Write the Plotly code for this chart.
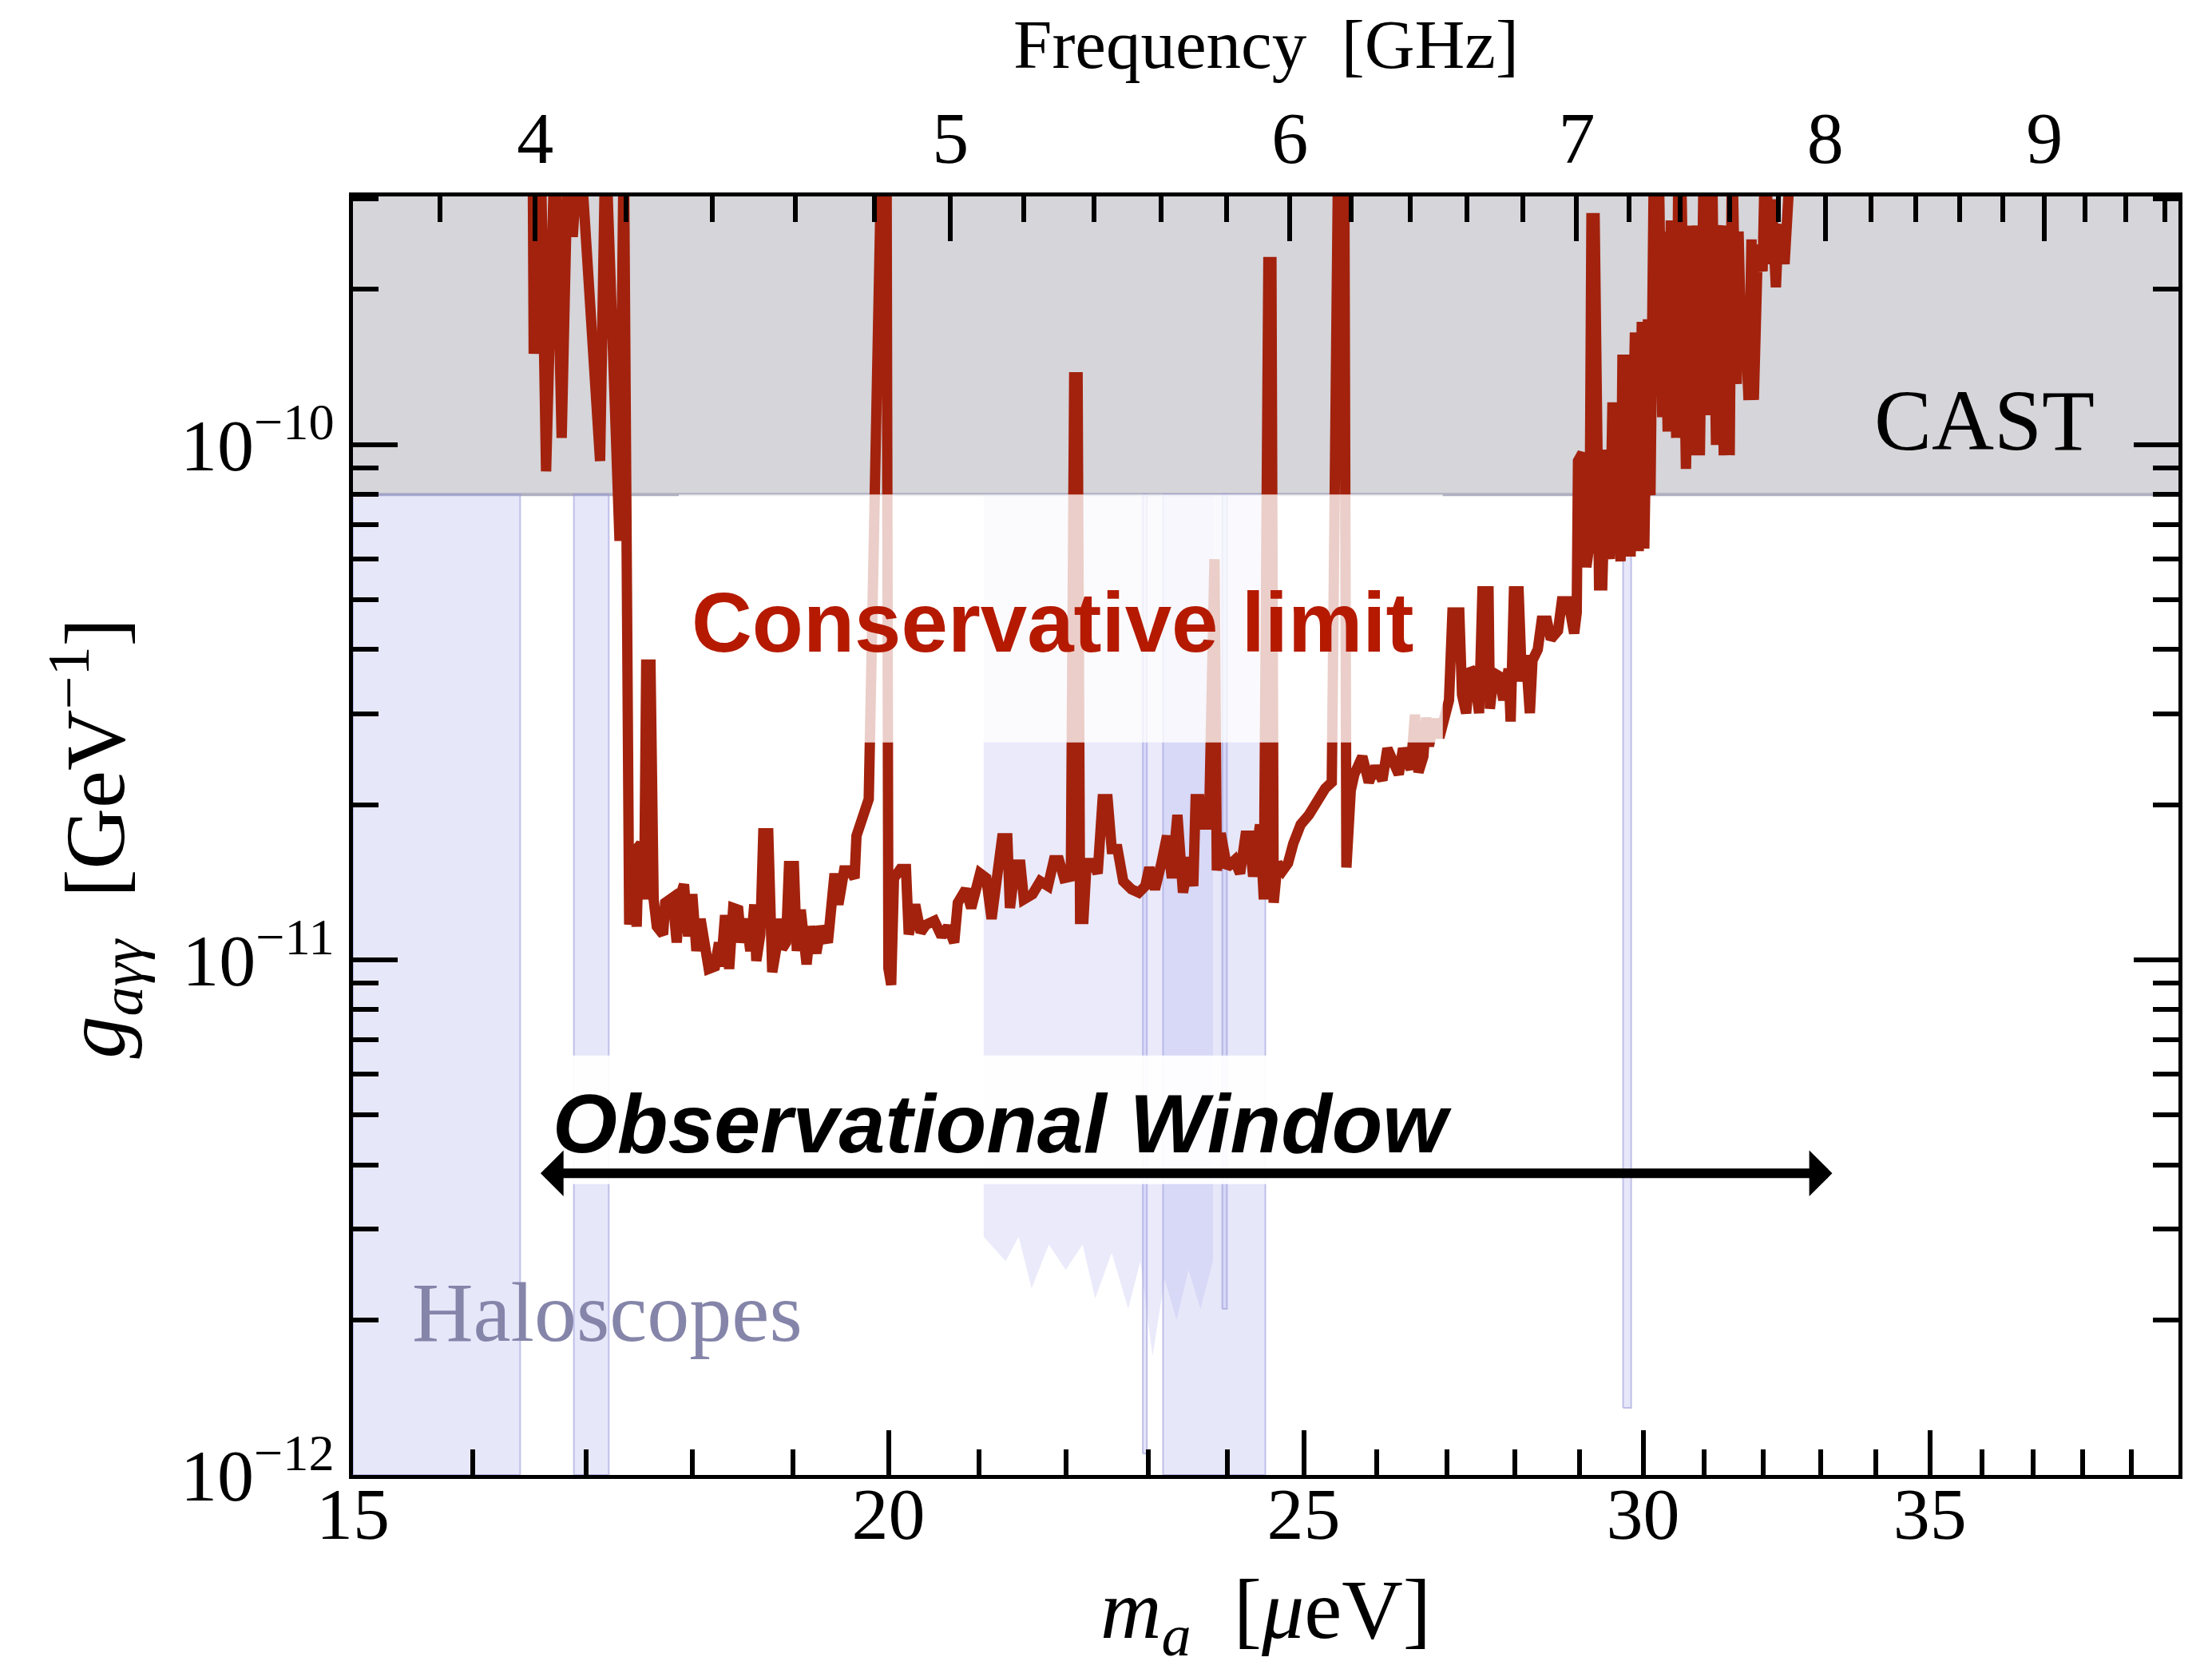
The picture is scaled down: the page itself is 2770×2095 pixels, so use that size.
import math
import plotly.graph_objects as go

# ---------------- data ----------------
# Conservative limit curve: axion mass [micro-eV] and coupling [1e-11 GeV^-1]
mass_ueV = [
    16.52, 16.53, 16.59, 16.64, 16.72, 16.78, 16.84, 16.88, 16.94, 17.13, 17.18, 17.24, 17.27, 17.31, 17.35, 17.38, 17.40,
    17.44, 17.47, 17.49, 17.51, 17.54, 17.56, 17.60, 17.63, 17.66, 17.72, 17.74, 17.81, 17.85, 17.88, 17.92, 17.96,
    18.00, 18.04, 18.08, 18.12, 18.16, 18.22, 18.26, 18.28, 18.32, 18.36, 18.40, 18.45, 18.48, 18.53, 18.57, 18.61,
    18.63, 18.67, 18.70, 18.75, 18.79, 18.83, 18.85, 18.89, 18.93, 18.96, 19.01, 19.04, 19.08, 19.14, 19.18, 19.24,
    19.29, 19.36, 19.43, 19.47, 19.53, 19.59, 19.64, 19.66, 19.74, 19.79, 19.93, 19.98, 20.00, 20.03, 20.06, 20.13,
    20.19, 20.22, 20.29, 20.35, 20.41,
    20.50, 20.58, 20.65, 20.72, 20.76, 20.85, 20.91, 21.01, 21.08, 21.14, 21.21, 21.26, 21.32, 21.35, 21.41, 21.47,
    21.51, 21.61, 21.70, 21.79, 21.86, 21.92, 21.98, 22.06, 22.10, 22.14, 22.17, 22.21, 22.24, 22.26, 22.33, 22.38,
    22.44, 22.50, 22.55, 22.62, 22.69, 22.79, 22.88, 22.96, 23.01, 23.08, 23.16, 23.23, 23.29, 23.36, 23.43, 23.51,
    23.56, 23.59, 23.64, 23.69, 23.76, 23.80, 23.83, 23.86, 23.91, 23.99, 24.09, 24.16, 24.23, 24.28, 24.33, 24.42,
    24.47, 24.53, 24.57, 24.60, 24.65, 24.72, 24.79, 24.86, 24.96, 25.07, 25.18, 25.29, 25.38, 25.47, 25.55, 25.58,
    25.64,
    25.69, 25.80, 25.89, 25.98, 26.08, 26.15, 26.23, 26.31, 26.37, 26.48, 26.54, 26.59, 26.66, 26.70, 26.74, 26.82,
    26.89, 26.97, 27.03, 27.08, 27.18, 27.22, 27.28, 27.34, 27.40, 27.47, 27.52, 27.61, 27.63, 27.69, 27.77, 27.83,
    27.91, 27.94, 27.99, 28.06, 28.11, 28.17, 28.23, 28.27, 28.35, 28.41, 28.49, 28.55, 28.66, 28.72, 28.82, 28.91,
    28.95,
    28.97, 29.04, 29.10, 29.15, 29.18, 29.23, 29.30, 29.35, 29.39, 29.42, 29.47, 29.51, 29.57, 29.64, 29.67, 29.76,
    29.80, 29.84, 29.87, 29.93, 29.98, 30.02, 30.08, 30.12, 30.18, 30.25, 30.31, 30.34, 30.40, 30.45, 30.50, 30.54,
    30.57, 30.63, 30.70, 30.76, 30.78, 30.82, 30.86, 30.89, 30.93, 31.00, 31.07, 31.11, 31.13, 31.16, 31.20, 31.25,
    31.29, 31.33, 31.39, 31.43, 31.47, 31.51, 31.55, 31.58, 31.63, 31.68, 31.75, 31.80, 31.84, 31.91, 31.95, 31.99,
    32.04, 32.10, 32.15, 32.22, 32.26, 32.32, 32.37, 32.43, 32.50,
]
g_limit_e11 = [
    40, 15.0, 40, 8.87, 40, 10.3, 40, 25.3, 40, 9.29, 40, 16.7, 15.2, 6.50, 40, 1.44, 1.17,
    1.45, 1.16, 1.66, 1.68, 1.31, 3.74, 3.74, 1.31, 1.16, 1.12, 1.29, 1.32, 1.08, 1.32, 1.40, 1.11,
    1.34, 1.04, 1.20, 1.02, 0.96, 0.97, 1.08, 0.97, 1.22, 0.96, 1.26, 1.25, 1.08, 1.20, 1.04, 1.28,
    0.995, 1.12, 1.76, 1.76, 0.946, 1.05, 1.20, 1.05, 1.08, 1.52, 1.52, 1.04, 1.25, 0.98, 1.16, 1.03,
    1.16, 1.08, 1.47, 1.28, 1.49, 1.49, 1.44, 1.74, 1.89, 2.05, 40, 40, 0.963, 0.894, 1.44, 1.50,
    1.50, 1.12, 1.28, 1.13, 1.17,
    1.19, 1.11, 1.16, 1.08, 1.29, 1.37, 1.26, 1.47, 1.44, 1.20, 1.53, 1.72, 1.72, 1.26, 1.53, 1.53,
    1.31, 1.34, 1.42, 1.39, 1.56, 1.56, 1.44, 1.45, 13.5, 13.5, 1.20, 1.20, 1.47, 1.54, 1.54, 1.47,
    2.05, 2.05, 1.64, 1.64, 1.42, 1.37, 1.35, 1.39, 1.51, 1.37, 1.54, 1.74, 1.44, 1.91, 1.35, 1.58,
    1.39, 2.05, 2.05, 1.83, 1.83, 5.99, 5.99, 1.49, 1.76, 1.51, 1.56, 1.47, 1.74, 1.74, 1.45, 1.83,
    1.31, 22.6, 22.6, 1.29, 1.54, 1.49, 1.54, 1.68, 1.83, 1.91, 2.05, 2.15, 2.21, 40, 40, 1.51,
    2.13,
    2.29, 2.48, 2.21, 2.37, 2.23, 2.57, 2.43, 2.29, 2.57, 2.34, 2.99, 2.31, 2.48, 2.95, 2.60, 2.93,
    2.70, 3.01, 3.19, 4.72, 4.72, 3.27, 3.01, 3.67, 3.60, 3.01, 5.19, 5.19, 3.07, 3.60, 3.55, 3.19,
    3.67, 2.90, 5.19, 5.19, 3.47, 3.90, 3.01, 3.81, 4.00, 4.55, 4.55, 4.19, 4.35, 4.96, 4.96, 4.30,
    4.72,
    9.29, 9.63, 5.78, 6.43, 27.5, 27.5, 5.33, 5.33, 8.06, 9.77, 5.99, 11.8, 11.8, 5.93, 14.6, 14.6,
    6.06, 10.6, 16.5, 6.21, 17.3, 6.28, 17.5, 7.97, 40, 40, 11.3, 25.9, 10.6, 26.6, 26.6, 10.3,
    29.6, 29.6, 8.97, 23.3, 26.6, 9.53, 26.6, 26.6, 9.53, 40, 40, 11.4, 40, 20.2, 9.98, 25.0,
    26.6, 9.53, 20.9, 9.53, 40, 21.9, 13.1, 25.9, 14.6, 19.0, 12.2, 25.0, 12.2, 24.4, 21.7, 21.7,
    40, 22.4, 29.9, 20.2, 25.9, 26.6, 22.4, 28.1, 40,
]

# CAST bound [GeV^-1]
cast_limit = 8.0e-11

# Haloscope exclusion bands (mass range, lower coupling edge)
band_x0 = [15.00, 16.89, 23.18, 22.93, 23.93, 29.68]
band_x1 = [16.41, 17.21, 24.49, 22.98, 23.99, 29.81]
band_ylo = [1.0e-12, 1.0e-12, 1.0e-12, 1.1e-12, 2.1e-12, 1.35e-12]

# Haloscope band with jagged lower edge
jag_mass = [21.05, 21.30, 21.45, 21.60, 21.80, 22.00, 22.20, 22.35, 22.55, 22.75, 22.90, 23.05,
            23.20, 23.35, 23.50, 23.65, 23.81]
jag_g = [2.9e-12, 2.6e-12, 2.9e-12, 2.3e-12, 2.8e-12, 2.5e-12, 2.8e-12, 2.2e-12, 2.7e-12, 2.1e-12,
         2.6e-12, 1.7e-12, 2.4e-12, 2.0e-12, 2.5e-12, 2.1e-12, 2.6e-12]

# Label backgrounds (mass range, coupling range)
box_mass = [[17.87, 26.94], [16.45, 27.50]]
box_g = [[2.64e-11, 8.0e-11], [3.67e-12, 6.52e-12]]
box_alpha = [0.78, 0.93]

# Observational window (4 GHz -> 8 GHz)
window_mass = [16.58, 33.21]
window_g = 3.85e-12

GHZ_PER_UEV = 1.0 / 4.1357
mass_range = [15.0, 40.0]
g_range = [1.0e-12, 3.03e-10]

x_major = [15, 20, 25, 30, 35]
x_minor = [16, 17, 18, 19, 21, 22, 23, 24, 26, 27, 28, 29, 31, 32, 33, 34, 36, 37, 38, 39]
f_major = [4, 5, 6, 7, 8, 9]
f_minor = [3.8, 4.2, 4.4, 4.6, 4.8, 5.2, 5.4, 5.6, 5.8, 6.2, 6.4, 6.6, 6.8, 7.2, 7.4, 7.6, 7.8,
           8.2, 8.4, 8.6, 8.8, 9.2, 9.4, 9.6]
y_major = [1e-12, 1e-11, 1e-10]
y_major_text = ["10<sup>\u221212</sup>", "10<sup>\u221211</sup>", "10<sup>\u221210</sup>"]
y_minor = [k * 10.0 ** e for e in (-12, -11) for k in range(2, 10)] + [2e-10, 3e-10]

# ---------------- figure ----------------
SERIF = "Liberation Serif"
SANS = "Liberation Sans"
BAND_FILL = "rgba(175,175,240,0.30)"
BAND_EDGE = "rgba(150,150,215,0.55)"
RED = "#A3220D"

fig = go.Figure()

# CAST region
fig.add_trace(go.Scatter(x=[14, 41, 41, 14, 14], y=[cast_limit, cast_limit, 1e-9, 1e-9, cast_limit],
                         fill="toself", fillcolor="#D5D5DA", line=dict(width=0), mode="lines",
                         hoverinfo="skip", showlegend=False))
fig.add_trace(go.Scatter(x=[14, 41], y=[cast_limit, cast_limit], mode="lines",
                         line=dict(color="#B0B0C0", width=4), hoverinfo="skip", showlegend=False))

# haloscope bands
for x0, x1, ylo in zip(band_x0, band_x1, band_ylo):
    fig.add_trace(go.Scatter(x=[x0, x1, x1, x0, x0], y=[ylo, ylo, cast_limit, cast_limit, ylo],
                             fill="toself", fillcolor=BAND_FILL, mode="lines",
                             line=dict(color=BAND_EDGE, width=2), hoverinfo="skip", showlegend=False))
jx = [jag_mass[0]] + jag_mass + [jag_mass[-1], jag_mass[0]]
jy = [cast_limit] + jag_g + [cast_limit, cast_limit]
fig.add_trace(go.Scatter(x=jx, y=jy, fill="toself", fillcolor="rgba(175,175,240,0.26)", mode="lines",
                         line=dict(width=0), hoverinfo="skip", showlegend=False))

# conservative limit
fig.add_trace(go.Scatter(x=mass_ueV, y=[v * 1e-11 for v in g_limit_e11], mode="lines",
                         line=dict(color=RED, width=13), hoverinfo="skip", showlegend=False))

# white label backgrounds
for (bx0, bx1), (by0, by1), a in zip(box_mass, box_g, box_alpha):
    fig.add_trace(go.Scatter(x=[bx0, bx1, bx1, bx0, bx0], y=[by0, by0, by1, by1, by0],
                             fill="toself", fillcolor=f"rgba(255,255,255,{a})", mode="lines",
                             line=dict(width=0), hoverinfo="skip", showlegend=False))

# dummy trace for the frequency axis
fig.add_trace(go.Scatter(x=[6.0], y=[1e-11], xaxis="x2", mode="markers",
                         marker=dict(opacity=0), hoverinfo="skip", showlegend=False))

L10 = math.log10
C = dict(xanchor="center", yanchor="middle", showarrow=False)
ann = []
ann.append(dict(x=L10(21.85), y=L10(4.51e-11), xref="x", yref="y", text="<b>Conservative limit</b>",
                font=dict(family=SANS, size=105, color="#B51A00"), **C))
ann.append(dict(x=L10(21.26), y=L10(4.80e-12), xref="x", yref="y",
                text="<b><i>Observational Window</i></b>",
                font=dict(family=SANS, size=104, color="black"), **C))
ann.append(dict(x=L10(36.04), y=L10(1.115e-10), xref="x", yref="y", text="CAST",
                font=dict(family=SERIF, size=108, color="black"), **C))
ann.append(dict(x=L10(17.2), y=L10(2.07e-12), xref="x", yref="y", text="Haloscopes",
                font=dict(family=SERIF, size=106, color="#8585AA"), **C))
ann.append(dict(x=L10(window_mass[1]), y=L10(window_g), ax=L10(window_mass[0]), ay=L10(window_g),
                xref="x", yref="y", axref="x", ayref="y", text="", showarrow=True,
                arrowside="end+start", arrowhead=1, startarrowhead=1, arrowsize=0.8,
                startarrowsize=0.8, arrowwidth=12, arrowcolor="black", standoff=0, startstandoff=0))
# axis titles
ann.append(dict(x=0.5, y=-0.110, xref="paper", yref="paper",
                text="<i>m</i><sub><i>a</i></sub>\u00a0\u00a0[<i>\u03bc</i>eV]",
                font=dict(family=SERIF, size=106, color="black"), **C))
ann.append(dict(x=0.5, y=1.119, xref="paper", yref="paper", text="Frequency\u00a0\u00a0[GHz]",
                font=dict(family=SERIF, size=87, color="black"), **C))
ann.append(dict(x=-0.141, y=0.498, xref="paper", yref="paper", textangle=-90,
                text="<i>g</i><sub><i>a\u03b3\u03b3</i></sub>\u00a0\u00a0[GeV<sup>\u22121</sup>]",
                font=dict(family=SERIF, size=106, color="black"), **C))

tickfont = dict(family=SERIF, size=92, color="black")
common = dict(type="log", showgrid=False, zeroline=False, ticks="inside", ticklen=56, tickwidth=6,
              tickcolor="black", showline=True, linewidth=5, linecolor="black", tickfont=tickfont)

fig.update_layout(
    width=2770, height=2095,
    margin=dict(l=442, r=42, t=246, b=248),
    paper_bgcolor="white", plot_bgcolor="white",
    showlegend=False,
    xaxis=dict(range=[L10(mass_range[0]), L10(mass_range[1])], tickmode="array", tickvals=x_major,
               ticktext=[str(v) for v in x_major], mirror=True, ticklabelstandoff=-35,
               minor=dict(tickmode="array", tickvals=x_minor, ticks="inside", ticklen=32,
                          tickwidth=6, tickcolor="black", showgrid=False),
               **common),
    xaxis2=dict(range=[L10(mass_range[0] * GHZ_PER_UEV), L10(mass_range[1] * GHZ_PER_UEV)],
                overlaying="x", side="top", anchor="y", tickmode="array", tickvals=f_major,
                ticktext=[str(v) for v in f_major],
                minor=dict(tickmode="array", tickvals=f_minor, ticks="inside", ticklen=32,
                           tickwidth=6, tickcolor="black", showgrid=False),
                **common),
    yaxis=dict(range=[L10(g_range[0]), L10(g_range[1])], tickmode="array", tickvals=y_major,
               ticktext=y_major_text, mirror="ticks",
               minor=dict(tickmode="array", tickvals=y_minor, ticks="inside", ticklen=32,
                          tickwidth=6, tickcolor="black", showgrid=False),
               **common),
    annotations=ann,
)

fig.write_html("out.html")
